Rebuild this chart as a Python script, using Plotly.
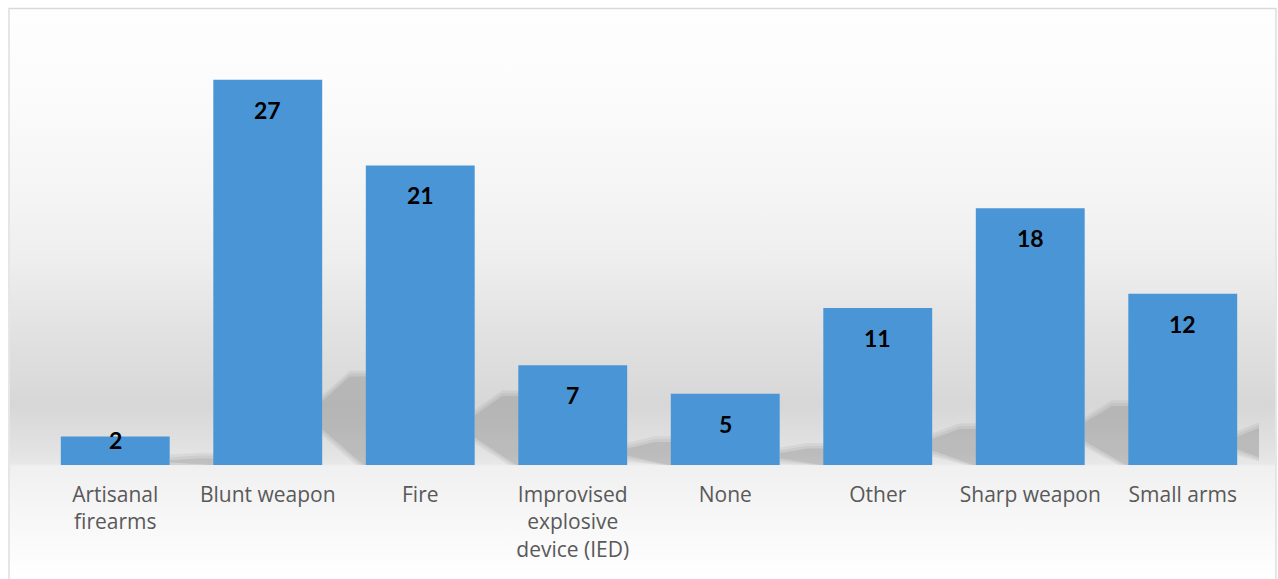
import plotly.graph_objects as go
import urllib.parse

# ---- data ----
categories = ["Artisanal<br>firearms", "Blunt weapon", "Fire",
              "Improvised<br>explosive<br>device (IED)", "None", "Other",
              "Sharp weapon", "Small arms"]
values = [2, 27, 21, 7, 5, 11, 18, 12]

# ---- layout geometry (pixels) ----
W, H = 1278, 579
ML, MR, MT, MB = 39, 19, 37, 114
PW, PH = W - ML - MR, H - MT - MB
YMAX = 30


def px2x(px):
    return (px - ML) / PW


def py2y(py):
    return (H - MB - py) / PH


# background gradient (wall + floor) as an svg image
stops = [(9, "#fefefe"), (100, "#fbfbfb"), (200, "#f4f4f4"), (260, "#eeeeee"),
         (330, "#e2e2e2"), (405, "#d7d7d7"), (450, "#e2e2e2"), (464, "#e8e8e8"),
         (466, "#f0f0f0"), (579, "#ffffff")]
bx0, by0, bx1, by1 = 10, 9, 1275, 579
bh = by1 - by0
stop_xml = "".join(
    f'<stop offset="{(y - by0) / bh:.4f}" stop-color="{c}"/>' for y, c in stops)
svg = (f'<svg xmlns="http://www.w3.org/2000/svg" width="{bx1-bx0}" height="{bh}" '
       f'viewBox="0 0 {bx1-bx0} {bh}" preserveAspectRatio="none">'
       f'<defs><linearGradient id="g" x1="0" y1="0" x2="0" y2="1">{stop_xml}'
       f'</linearGradient></defs><rect width="100%" height="100%" fill="url(#g)"/></svg>')
svg_uri = "data:image/svg+xml;charset=utf-8," + urllib.parse.quote(svg)

fig = go.Figure()
fig.add_trace(go.Bar(
    x=categories, y=values,
    marker=dict(color="#4a95d5", line=dict(width=0)),
    hoverinfo="x+y",
))

# bar-shadow decoration (computed from the data values)
bar_w = 1 - 0.286
shapes = []
for i, v in enumerate(values):
    s = 0.23 * v
    xr = i + bar_w / 2
    for grow, op in [(0.05, 0.10), (0.025, 0.12), (0.0, 0.19)]:
        pts = [
            (xr, 0.40 * s - grow * 8),
            (xr, 0.72 * s + grow * 8),
            (xr + 0.18, s + grow * 8),
            (xr + 0.45, s + grow * 8),
            (xr + 0.45, 0),
            (xr + 0.27 - grow, 0),
        ]
        path = "M " + " L ".join(f"{x:.4f},{max(y, 0):.4f}" for x, y in pts) + " Z"
        shapes.append(dict(type="path", path=path, xref="x", yref="y",
                           fillcolor=f"rgba(120,120,120,{op})", line=dict(width=0),
                           layer="below"))

# chart border
x0b, x1b = px2x(9), px2x(1276)
y0b, y1b = py2y(8.5), py2y(600)
shapes.append(dict(type="path", xref="paper", yref="paper",
                   path=f"M {x0b},{y1b} L {x0b},{y0b} L {x1b},{y0b} L {x1b},{y1b}",
                   line=dict(color="#d9d9d9", width=1.3), layer="above"))

# value labels
px_per_unit = PH / YMAX
annotations = []
for c, v in zip(categories, values):
    annotations.append(dict(
        x=c, y=v, xref="x", yref="y", text=f"<b>{v}</b>", showarrow=False,
        yanchor="middle", yshift=-30 if v * px_per_unit > 60 else -4,
        font=dict(family="Lato", size=23, color="#000000")))

fig.update_layout(
    width=W, height=H,
    margin=dict(l=ML, r=MR, t=MT, b=MB),
    paper_bgcolor="#ffffff",
    plot_bgcolor="rgba(0,0,0,0)",
    bargap=0.286,
    showlegend=False,
    shapes=shapes,
    annotations=annotations,
    images=[dict(source=svg_uri, xref="paper", yref="paper",
                 x=px2x(bx0), y=py2y(by0),
                 sizex=px2x(bx1) - px2x(bx0), sizey=py2y(by0) - py2y(by1),
                 xanchor="left", yanchor="top", sizing="stretch", layer="below")],
    xaxis=dict(range=[-0.5, len(categories) - 0.5], showgrid=False, zeroline=False,
               showline=False, ticks="",
               tickfont=dict(family="Open Sans", size=21, color="#595959"),
               ticklabelstandoff=15, fixedrange=True),
    yaxis=dict(range=[0, YMAX], visible=False, showgrid=False, zeroline=False,
               fixedrange=True),
)

fig.write_html("out.html", config={"displayModeBar": False},
               post_script="document.body.style.margin='0';document.body.style.overflow='hidden';")
